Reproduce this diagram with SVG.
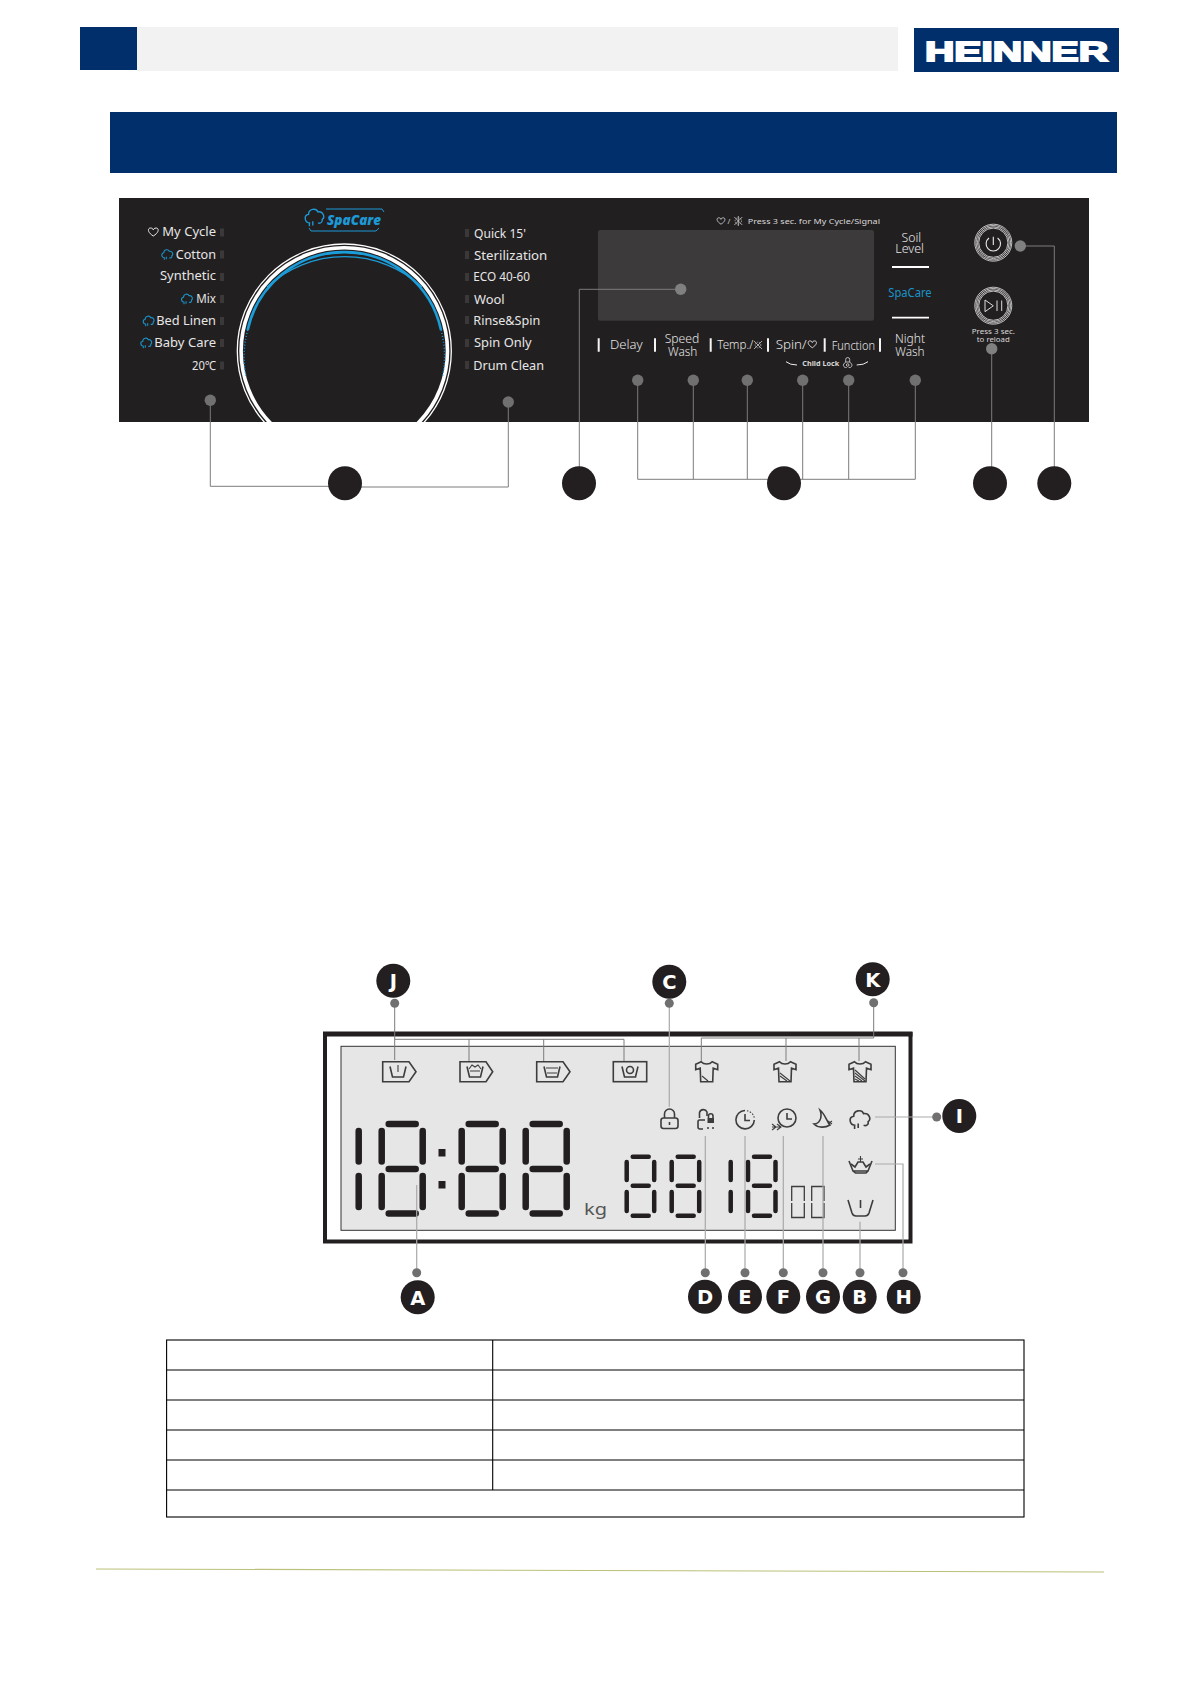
<svg xmlns="http://www.w3.org/2000/svg" width="1191" height="1684" viewBox="0 0 1191 1684">
<style>
.t{font-family:"Noto Sans","Liberation Sans",sans-serif;fill:#e6e6e6;font-size:12.5px;font-weight:400}
.b{font-size:13.5px;font-weight:300}
.s{font-size:7.5px;fill:#d8d8d8}
.num{fill:#231f20}
.let{font-family:"DejaVu Sans","Liberation Sans",sans-serif;font-weight:700;font-size:19.5px;fill:#fff;text-anchor:middle}
.dot{fill:#707070}
.dotl{fill:#808080}
.c1{fill:none;stroke:#7c7c7c;stroke-width:1}
.c2{fill:none;stroke:#a9a9a9;stroke-width:1.2}
.led{fill:#3a3839}
.seg{stroke:#231f20;stroke-width:6.5;stroke-linecap:round;fill:none}
.seg2{stroke:#231f20;stroke-width:4.5;stroke-linecap:round;fill:none}
.ic{fill:none;stroke:#3d3d3d;stroke-width:1.1}
.ic2{fill:none;stroke:#3d3d3d;stroke-width:1.6}
.ring{fill:none;stroke:#e8e8e8;stroke-width:.8}
.cell{fill:none;stroke:#000;stroke-width:1.1}
</style>
<defs>
<clipPath id="panelClip"><rect x="119" y="198" width="970" height="224"/></clipPath>
<path id="cloud" d="M-2.500 3.500C-6 3.500-6.500-1-3.500-1.500C-3.500-5 1-5.500 2-3C5-3.500 6.500 0 4.500 1.500C5 3 3.500 4 2 3.500M-3 3.500V5.500M-1 2.500V5"/>
<path id="heart" d="M0 4C-6.500 0-5.500-4-2.800-4C-1.200-4 0-3 0-2C0-3 1.200-4 2.800-4C5.500-4 6.500 0 0 4Z"/>
<g id="big"><path class="seg" d="M0 1131V1161.500M0 1176V1207M41 1131V1161.500M41 1176V1207M7 1124H34M7 1169H34M7 1213.500H34"/></g>
<g id="mid"><path class="seg2" d="M0 1162V1180M0 1192V1211M27.500 1162V1180M27.500 1192V1211M6 1156.700H22M6 1185.700H22M6 1215.700H22"/></g>
<path id="tub" d="M-8-5L-5.500 5.500H5.500L8-5"/>
<path id="shirt" d="M-5.500-10L-11-7.500L-11-2L-6.500-3.500L-6 10H6L6.500-3.500L11-2L11-7.500L5.500-10C3-7 -3-7 -5.500-10Z"/>
</defs>
<rect width="1191" height="1684" fill="#fff"/>

<g id="header">
<rect x="80" y="27" width="57" height="43" fill="#002f6c"/>
<rect x="137" y="27" width="761" height="44" fill="#f2f2f2"/>
<rect x="914" y="28" width="205" height="44" fill="#002f6c"/>
<text x="925" y="60.500" textLength="183" lengthAdjust="spacingAndGlyphs" font-family="Liberation Sans, sans-serif" font-weight="700" font-size="27.500" fill="#fff" stroke="#fff" stroke-width="1.800">HEINNER</text>
<rect x="110" y="112" width="1007" height="61" fill="#002f6c"/>
</g>

<g id="panel">
<rect x="119" y="198" width="970" height="224" fill="#221f20"/>
<rect x="598" y="230" width="276" height="90.700" rx="2" fill="#3c3a3b"/>
<g id="dial" clip-path="url(#panelClip)">
<circle cx="344.300" cy="351" r="107" fill="none" stroke="#fff" stroke-width="1.300"/>
<circle cx="344.300" cy="351" r="103.200" fill="none" stroke="#fff" stroke-width="3.600"/>
<path d="M247.700 330A98.900 98.900 0 0 1 441 330" fill="none" stroke="#1b9dd9" stroke-width="2.600"/>
<path d="M267 287A114 114 0 0 1 422 287" fill="none" stroke="#1b9dd9" stroke-width="1.300"/>
<path d="M247.700 330A98.900 98.900 0 0 0 246 376M441 330A98.900 98.900 0 0 1 442.600 376" fill="none" stroke="#1b9dd9" stroke-width="1.500" stroke-dasharray="1 2"/>
</g>
<g id="spacare-logo" fill="none" stroke="#1d9ad6">
<use href="#cloud" transform="translate(314.500 217) scale(1.700)" stroke-width=".8"/>
<path d="M326 209H382L384 212M309 228L311 231H376L379 228" stroke-width="1"/>
<text x="327" y="225" textLength="54" lengthAdjust="spacingAndGlyphs" font-family="Open Sans, Liberation Sans, sans-serif" font-weight="800" font-style="italic" font-size="14.500" fill="#1d9ad6" stroke="none">SpaCare</text>
</g>
<g id="programs-left">
<text class="t" x="162.300" y="236" textLength="53.700" lengthAdjust="spacingAndGlyphs">My Cycle</text>
<text class="t" x="175.700" y="259" textLength="40.300" lengthAdjust="spacingAndGlyphs">Cotton</text>
<text class="t" x="160" y="280.300" textLength="56" lengthAdjust="spacingAndGlyphs">Synthetic</text>
<text class="t" x="196.300" y="303" textLength="19.700" lengthAdjust="spacingAndGlyphs">Mix</text>
<text class="t" x="156.300" y="325" textLength="59.700" lengthAdjust="spacingAndGlyphs">Bed Linen</text>
<text class="t" x="154.300" y="346.700" textLength="61.700" lengthAdjust="spacingAndGlyphs">Baby Care</text>
<text class="t" x="192" y="370" textLength="24" lengthAdjust="spacingAndGlyphs">20℃</text>
<use href="#heart" x="153.300" y="232" fill="none" stroke="#eee" stroke-width="1"/>
<g fill="none" stroke="#1a93c8" stroke-width="1.100">
<use href="#cloud" x="167.300" y="254.300"/><use href="#cloud" x="187" y="298.700"/><use href="#cloud" x="148.700" y="320.700"/><use href="#cloud" x="146.300" y="342.700"/>
</g>
<g class="led"><rect x="220" y="228.500" width="4" height="8"/><rect x="220" y="250.500" width="4" height="8"/><rect x="220" y="273" width="4" height="8"/><rect x="220" y="295" width="4" height="8"/><rect x="220" y="317" width="4" height="8"/><rect x="220" y="339" width="4" height="8"/><rect x="220" y="361.500" width="4" height="8"/></g>
</g>
<g id="programs-right">
<text class="t" x="474" y="237.700" textLength="52" lengthAdjust="spacingAndGlyphs">Quick 15'</text>
<text class="t" x="474" y="260" textLength="73.300" lengthAdjust="spacingAndGlyphs">Sterilization</text>
<text class="t" x="473.300" y="281" textLength="56.700" lengthAdjust="spacingAndGlyphs">ECO 40-60</text>
<text class="t" x="474" y="304" textLength="30.700" lengthAdjust="spacingAndGlyphs">Wool</text>
<text class="t" x="473.300" y="325" textLength="67" lengthAdjust="spacingAndGlyphs">Rinse&amp;Spin</text>
<text class="t" x="474" y="347" textLength="57.700" lengthAdjust="spacingAndGlyphs">Spin Only</text>
<text class="t" x="473.300" y="370" textLength="70.700" lengthAdjust="spacingAndGlyphs">Drum Clean</text>
<g class="led"><rect x="465" y="229" width="4" height="8"/><rect x="465" y="251" width="4" height="8"/><rect x="465" y="273" width="4" height="8"/><rect x="465" y="295" width="4" height="8"/><rect x="465" y="316" width="4" height="8"/><rect x="465" y="339" width="4" height="8"/><rect x="465" y="361" width="4" height="8"/></g>
</g>
<g id="top-note">
<use href="#heart" transform="translate(721 221) scale(.8)" fill="none" stroke="#ddd" stroke-width="1"/>
<text class="t s" x="727.500" y="223.700">/</text>
<g transform="translate(738.300 221)" fill="none" stroke="#ccc" stroke-width=".8"><circle r="3.200" stroke-dasharray="1 1"/><path d="M-4-4L4 4M-4 4L4-4M0-5V5"/></g>
<text class="t s" x="747.700" y="223.700" textLength="132.300" lengthAdjust="spacingAndGlyphs">Press 3 sec. for My Cycle/Signal</text>
</g>
<g id="buttons">
<text class="t" x="901.500" y="242" textLength="19.700" lengthAdjust="spacingAndGlyphs" style="font-weight:300">Soil</text>
<text class="t" x="895.300" y="252.700" textLength="28.700" lengthAdjust="spacingAndGlyphs" style="font-weight:300">Level</text>
<path d="M892 267H929M892 317.700H929" stroke="#fff" stroke-width="1.800" fill="none"/>
<text class="t" x="888.300" y="297.300" textLength="43.400" lengthAdjust="spacingAndGlyphs" style="fill:#1a93c8">SpaCare</text>
<path d="M598.700 338.300V351.700M655 338.300V351.700M710.700 338.300V351.700M768 338.300V351.700M824.700 338.300V351.700M880 338.300V351.700" stroke="#f4f4f4" stroke-width="2" fill="none"/>
<text class="t b" x="610" y="349.300" textLength="32.700" lengthAdjust="spacingAndGlyphs">Delay</text>
<text class="t b" x="664.700" y="342.700" textLength="34.600" lengthAdjust="spacingAndGlyphs">Speed</text>
<text class="t b" x="668" y="355.700" textLength="29.300" lengthAdjust="spacingAndGlyphs">Wash</text>
<text class="t b" x="717.300" y="349" textLength="36" lengthAdjust="spacingAndGlyphs">Temp./</text>
<g transform="translate(758 345)" fill="none" stroke="#ccc" stroke-width=".8"><circle r="2.800" stroke-dasharray="1 1"/><path d="M-4-4L4 4M-4 4L4-4"/></g>
<text class="t b" x="775.700" y="349.300" textLength="31" lengthAdjust="spacingAndGlyphs">Spin/</text>
<use href="#heart" transform="translate(812.300 344.300) scale(.85)" fill="none" stroke="#eee" stroke-width="1"/>
<text class="t b" x="831.700" y="350" textLength="43.300" lengthAdjust="spacingAndGlyphs">Function</text>
<text class="t b" x="895" y="342.700" textLength="30" lengthAdjust="spacingAndGlyphs">Night</text>
<text class="t b" x="895.300" y="355.700" textLength="29.300" lengthAdjust="spacingAndGlyphs">Wash</text>
<path d="M786 361.700Q790 365 797 365M868 361.700Q864 365 856.700 365" fill="none" stroke="#eee" stroke-width="1"/>
<text class="t s" x="802.300" y="366.300" textLength="37" lengthAdjust="spacingAndGlyphs" style="font-weight:700">Child Lock</text>
<g transform="translate(847.700 363)" fill="none" stroke="#ddd" stroke-width=".8"><path d="M-2 -1V-3.500A2 2 0 0 1 2-3.500V-1M-4 1A2.500 2.500 0 0 0 -1 4.500M1 4.500A2.500 2.500 0 0 0 4 1L2-1H-2L-4 1"/><circle cx="0" cy="2" r="1.300"/></g>
</g>
<g id="power-button">
<circle class="ring" cx="993.300" cy="242.700" r="18.500"/><circle class="ring" cx="993.300" cy="242.700" r="17.200"/><circle class="ring" cx="993.300" cy="242.700" r="15.900"/><circle class="ring" cx="993.300" cy="242.700" r="14.600"/>
<path d="M989 238A7.200 7.200 0 1 0 997.600 238M993.300 236.700V245" fill="none" stroke="#eee" stroke-width="1.100"/>
</g>
<g id="start-button">
<circle class="ring" cx="993.300" cy="305.700" r="18.500"/><circle class="ring" cx="993.300" cy="305.700" r="17.200"/><circle class="ring" cx="993.300" cy="305.700" r="15.900"/><circle class="ring" cx="993.300" cy="305.700" r="14.600"/>
<path d="M985 300L993.300 305.800L985 311.700ZM997 300.500V311M1001.700 300.500V311" fill="none" stroke="#ddd" stroke-width="1"/>
<text class="t s" x="971.700" y="333.700" textLength="43.300" lengthAdjust="spacingAndGlyphs">Press 3 sec.</text>
<text class="t s" x="976.800" y="341.700" textLength="33" lengthAdjust="spacingAndGlyphs">to reload</text>
</g>
</g>

<g id="lcd">
<rect x="325" y="1034" width="585.500" height="207.500" fill="#fff" stroke="#231f20" stroke-width="4"/>
<rect x="323" y="1031.500" width="589.500" height="5" fill="#231f20"/>
<rect x="341" y="1046.300" width="554.300" height="184" fill="#e6e6e6" stroke="#333" stroke-width="1"/>
<path class="seg" d="M358.700 1131V1161.500M358.700 1176V1207"/>
<use href="#big" x="381.700"/><use href="#big" x="461.700"/><use href="#big" x="525.700"/>
<rect x="438.500" y="1149" width="7" height="7.500" fill="#231f20"/><rect x="438.500" y="1181" width="7" height="7.500" fill="#231f20"/>
<text class="t" x="584" y="1215" style="font-size:17px;fill:#555" textLength="23" lengthAdjust="spacingAndGlyphs">kg</text>
<use href="#mid" x="626.700"/><use href="#mid" x="671.700"/>
<path class="seg2" d="M730.700 1162V1180M730.700 1192V1211"/>
<use href="#mid" x="748"/>
<path d="M791.700 1201V1186.500H804.300V1201M791.700 1203V1217.500H804.300V1203M811.700 1201V1186.500H824V1201M811.700 1203V1217.500H824V1203" fill="none" stroke="#3d3d3d" stroke-width="1.300"/>
<g id="lcd-icons">
<g id="wash1"><path class="ic2" d="M382.700 1061.700H409L416 1071.700L409 1081.700H382.700Z"/><use class="ic2" href="#tub" x="398" y="1071.500"/><path class="ic" d="M398 1065V1072"/></g>
<g id="wash2"><path class="ic2" d="M460 1061.700H486L492.700 1071.700L486 1081.700H460Z"/><use class="ic2" href="#tub" x="475" y="1071.500"/><path class="ic" d="M469 1069L472 1065L475 1067L478 1065L481 1069M470 1071H480"/></g>
<g id="wash3"><path class="ic2" d="M536.700 1061.700H563L570 1071.700L563 1081.700H536.700Z"/><use class="ic2" href="#tub" x="552" y="1071.500"/><path class="ic" d="M546 1068H558M547 1073H557"/></g>
<g id="wash4"><rect class="ic2" x="613.300" y="1061.700" width="33.400" height="20"/><use class="ic2" href="#tub" x="630" y="1071.500"/><circle class="ic2" cx="630" cy="1070" r="3.500"/></g>
<g id="shirt1"><use class="ic2" href="#shirt" x="706.700" y="1071.700"/><path class="ic" d="M702 1076L708 1081"/></g>
<g id="shirt2"><use class="ic2" href="#shirt" x="785" y="1071.700"/><path class="ic" d="M780 1073L790 1081M780 1076L787 1081"/></g>
<g id="shirt3"><use class="ic2" href="#shirt" x="860" y="1071.700"/><path class="ic" d="M855 1070L865 1079M855 1073L865 1081M855 1076L862 1081M855 1079L859 1081"/></g>
<g id="lock"><rect class="ic2" x="661" y="1118" width="17" height="10.500" rx="2.500"/><path class="ic2" d="M664.500 1118V1114A5 5 0 0 1 674.500 1114V1118M669.500 1122V1125"/></g>
<g id="childlock"><path class="ic2" d="M699.500 1118V1112.500A4 4 0 0 1 707 1112V1116M705 1120H699.500Q698 1120 698 1122V1127Q698 1129 700 1129H703"/><rect x="707.500" y="1118" width="6.500" height="5" fill="#3d3d3d"/><path class="ic2" d="M708.500 1118V1116A2 2 0 0 1 713 1116V1118M707 1128H709M712 1128H714"/></g>
<g id="clock"><path class="ic2" d="M745 1110.500A9.200 9.200 0 1 0 754.300 1120"/><path class="ic" d="M747 1110.700A9.200 9.200 0 0 1 754.300 1118" stroke-dasharray="1.500 1.500"/><path class="ic2" d="M745 1114V1120.500H750"/></g>
<g id="delay-clock"><circle class="ic2" cx="787" cy="1118" r="9"/><path class="ic2" d="M787 1113V1119H792"/><path class="ic" d="M772 1124L776 1127L772 1130M777 1124L781 1127L777 1130M772 1127H781"/></g>
<g id="moon"><path class="ic2" d="M820 1110C825 1114 826 1120 830 1125C825 1128 818 1128 814 1124C819 1124 823 1118 820 1110Z"/><path class="ic" d="M828 1121L832 1124M832 1121L828 1124"/></g>
<g id="steam"><use class="ic2" href="#cloud" transform="translate(860 1119) scale(1.800)" style="stroke-width:.9"/></g>
<g id="crown"><path class="ic2" d="M849 1161L853 1171H868L872 1161M853 1171L855.500 1173H866L868 1171"/><path class="ic2" d="M851 1164L855 1167L858 1162H863L866 1167L870 1164"/><path class="ic" d="M860.500 1156V1162M858 1159H863"/></g>
<g id="softener"><path class="ic2" d="M848 1200L852 1213Q853 1216 856 1216H865Q868 1216 869 1213L873 1200"/><path class="ic2" d="M860.500 1200V1208"/></g>
</g>
</g>

<g id="connectors">
<path class="c1" d="M210.300 400V486.300H345M508.300 402V487H345"/>
<path class="c1" d="M579.300 483V289.300H680.700"/>
<path class="c1" d="M637.700 380V479.300H915.300V380M693.300 380V479.300M747.300 380V479.300M802.700 380V479.300M848.700 380V479.300"/>
<path class="c1" d="M991.700 348V483"/>
<path class="c1" d="M1020.300 246H1054.300V483"/>
<path class="c1" d="M394.700 1003V1060M394.700 1039.300H624V1061M469 1039.300V1061M543.700 1039.300V1061"/>
<path class="c1" d="M873.700 1003V1038H701.300V1061M786 1038V1061M859 1038V1061"/>
<path class="c2" d="M669.300 1003V1106.700"/>
<path class="c2" d="M416.700 1272V1185"/>
<path class="c2" d="M705.300 1272V1136M745 1272V1136M783.300 1272V1136M823 1272V1136M860 1272V1221.700"/>
<path class="c2" d="M903 1272V1164H875M936.700 1117H875"/>
</g>

<g id="callouts-top">
<g id="badge-1"><circle class="dot" cx="210.300" cy="400.300" r="5.700"/><circle class="dot" cx="508.300" cy="402" r="5.700"/><circle class="num" cx="345" cy="483.300" r="17"/></g>
<g id="badge-2"><circle class="dotl" cx="680.700" cy="289.300" r="5.700"/><circle class="num" cx="579" cy="483.300" r="17"/></g>
<g id="badge-3"><circle class="dot" cx="637.700" cy="380.300" r="5.700"/><circle class="dot" cx="693.300" cy="380.300" r="5.700"/><circle class="dot" cx="747.300" cy="380.300" r="5.700"/><circle class="dot" cx="802.700" cy="380.300" r="5.700"/><circle class="dot" cx="848.700" cy="380.300" r="5.700"/><circle class="dot" cx="915.300" cy="380.300" r="5.700"/><circle class="num" cx="784" cy="483.300" r="17"/></g>
<g id="badge-4"><circle class="dotl" cx="991.700" cy="348.700" r="5.700"/><circle class="num" cx="990" cy="483.300" r="17"/></g>
<g id="badge-5"><circle class="dotl" cx="1020.300" cy="246" r="5.700"/><circle class="num" cx="1054.300" cy="483.300" r="17"/></g>
</g>

<g id="callouts-lcd">
<g id="badge-J"><circle class="dot" cx="394.700" cy="1003.300" r="4.500"/><circle class="num" cx="393.300" cy="980.700" r="17"/><text class="let" x="393.300" y="988">J</text></g>
<g id="badge-C"><circle class="dot" cx="669.300" cy="1003.300" r="4.500"/><circle class="num" cx="669.300" cy="981.700" r="17"/><text class="let" x="669.300" y="989">C</text></g>
<g id="badge-K"><circle class="dot" cx="873.700" cy="1002.700" r="4.500"/><circle class="num" cx="872.700" cy="979.300" r="17"/><text class="let" x="872.700" y="986.500">K</text></g>
<g id="badge-I"><circle class="dot" cx="936.700" cy="1117" r="4.500"/><circle class="num" cx="959.300" cy="1116" r="17"/><text class="let" x="959.300" y="1123">I</text></g>
<g id="badge-A"><circle class="dot" cx="416.700" cy="1272.700" r="4.500"/><circle class="num" cx="417.700" cy="1297.300" r="17"/><text class="let" x="417.700" y="1304.500">A</text></g>
<g id="badge-D"><circle class="dot" cx="705.300" cy="1272.700" r="4.500"/><circle class="num" cx="705" cy="1296.700" r="17"/><text class="let" x="705" y="1304">D</text></g>
<g id="badge-E"><circle class="dot" cx="745" cy="1272.700" r="4.500"/><circle class="num" cx="745" cy="1296.700" r="17"/><text class="let" x="745" y="1304">E</text></g>
<g id="badge-F"><circle class="dot" cx="783.300" cy="1272.700" r="4.500"/><circle class="num" cx="783.300" cy="1296.700" r="17"/><text class="let" x="783.300" y="1304">F</text></g>
<g id="badge-G"><circle class="dot" cx="823" cy="1272.700" r="4.500"/><circle class="num" cx="823" cy="1296.700" r="17"/><text class="let" x="823" y="1304">G</text></g>
<g id="badge-B"><circle class="dot" cx="860" cy="1272.700" r="4.500"/><circle class="num" cx="859.700" cy="1296.700" r="17"/><text class="let" x="859.700" y="1304">B</text></g>
<g id="badge-H"><circle class="dot" cx="903" cy="1272.700" r="4.500"/><circle class="num" cx="903.700" cy="1296.700" r="17"/><text class="let" x="903.700" y="1304">H</text></g>
</g>

<g id="table">
<rect class="cell" x="166.600" y="1340" width="857.400" height="177"/>
<path class="cell" d="M166.600 1370H1024M166.600 1400H1024M166.600 1430H1024M166.600 1460H1024M166.600 1490H1024M492.700 1340V1490"/>
</g>
<path id="footer-rule" d="M96 1569L1104 1572" fill="none" stroke="#bcc07a" stroke-width="1.200"/>
</svg>
